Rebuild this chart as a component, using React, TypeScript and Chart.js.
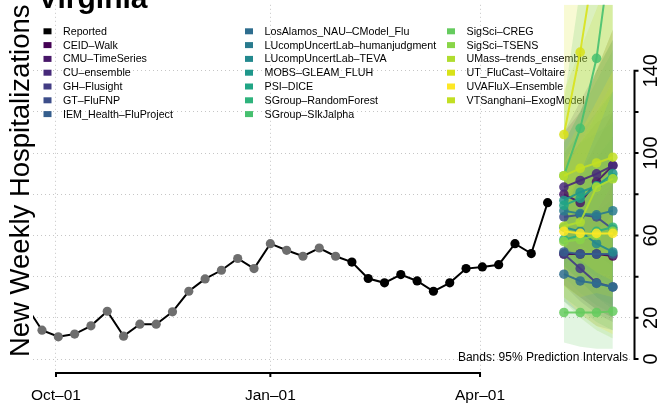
import React, { useEffect, useRef } from 'react';
import { Chart, registerables } from 'chart.js';

Chart.register(...registerables);

// ---------- data ----------
const reportedDates = [
  '2022-09-18', '2022-09-25', '2022-10-02', '2022-10-09', '2022-10-16', '2022-10-23',
  '2022-10-30', '2022-11-06', '2022-11-13', '2022-11-20', '2022-11-27', '2022-12-04',
  '2022-12-11', '2022-12-18', '2022-12-25', '2023-01-01', '2023-01-08', '2023-01-15',
  '2023-01-22', '2023-01-29', '2023-02-05', '2023-02-12', '2023-02-19', '2023-02-26',
  '2023-03-05', '2023-03-12', '2023-03-19', '2023-03-26', '2023-04-02', '2023-04-09',
  '2023-04-16', '2023-04-23', '2023-04-30',
];
const reportedValues = [
  26, 14.0, 10.8, 12.1, 16.1, 23.2,
  11.1, 16.9, 16.9, 22.9, 32.9, 38.9,
  43.1, 48.8, 43.9, 56.0, 52.8, 49.9,
  53.9, 49.9, 47.1, 39.1, 37.0, 41.0,
  37.9, 32.9, 37.0, 43.9, 44.7, 45.8,
  56.0, 51.2, 75.9,
];
// the first weeks are drawn in grey
const reportedGreyCount = 20;

const forecastDates = ['2023-05-07', '2023-05-14', '2023-05-21', '2023-05-28'];

const modelNames = [
  'CEID–Walk', 'CMU–TimeSeries', 'CU–ensemble', 'GH–Flusight', 'GT–FluFNP',
  'IEM_Health–FluProject', 'LosAlamos_NAU–CModel_Flu', 'LUcompUncertLab–humanjudgment',
  'LUcompUncertLab–TEVA', 'MOBS–GLEAM_FLUH', 'PSI–DICE', 'SGroup–RandomForest',
  'SGroup–SIkJalpha', 'SigSci–CREG', 'SigSci–TSENS', 'UMass–trends_ensemble',
  'UT_FluCast–Voltaire', 'UVAFluX–Ensemble', 'VTSanghani–ExogModel',
];
const modelColors = [
  '#440154', '#481769', '#472A7A', '#433D84', '#3D4E8A', '#355E8D', '#2E6D8E',
  '#297B8E', '#23898E', '#1F978B', '#21A585', '#2EB37C', '#46C06F', '#65CB5E',
  '#89D548', '#B0DD2F', '#D8E219', '#FDE725', '#C2DF23',
];
const modelMedian = [
  [51, 51, 51, 50],
  [80, 76, 86, 94],
  [83.5, 86.7, 89.9, 93.9],
  [51, 44, 37, 35],
  [69, 70, 69, 63],
  [52, 51, 51, 51],
  [41.2, 37.9, 36.7, 35],
  [72, 70.6, 70, 72],
  [64, 62, 56, 52],
  [77, 81, 84, 90],
  [74.6, 78, 84, 88],
  [58, 60, 62, 64],
  [89, 112, 146, 205],
  [22.6, 22.6, 22.6, 23.2],
  [57, 58, 60, 62],
  [64.5, 66.5, 83.5, 87.5],
  [109, 149, 199, 250],
  [62, 61, 61, 61],
  [89, 92.6, 95.2, 98],
];
const modelLower = [
  [36, 30, 24, 20],
  [55, 45, 40, 35],
  [60, 55, 50, 45],
  [36, 28, 22, 18],
  [45, 38, 30, 24],
  [36, 30, 24, 20],
  [28, 22, 16, 14],
  [45, 38, 30, 26],
  [40, 32, 26, 22],
  [50, 45, 42, 40],
  [45, 40, 36, 32],
  [30, 24, 18, 14],
  [60, 65, 72, 85],
  [8, 6, 5, 5],
  [28, 20, 14, 10],
  [35, 30, 32, 30],
  [70, 90, 110, 130],
  [30, 22, 16, 12],
  [55, 48, 42, 38],
];
const modelUpper = [
  [75, 90, 105, 120],
  [110, 120, 140, 160],
  [110, 125, 140, 155],
  [75, 78, 80, 85],
  [95, 105, 115, 120],
  [78, 88, 98, 108],
  [62, 66, 72, 78],
  [100, 110, 120, 130],
  [95, 105, 110, 115],
  [105, 120, 135, 150],
  [105, 120, 140, 155],
  [90, 105, 118, 130],
  [125, 180, 260, 360],
  [45, 55, 62, 70],
  [90, 105, 120, 135],
  [100, 115, 140, 160],
  [180, 240, 320, 420],
  [95, 110, 125, 140],
  [130, 150, 170, 190],
];

const xTickDates = ['2022-10-01', '2023-01-01', '2023-04-01'];
const xTickLabels = ['Oct–01', 'Jan–01', 'Apr–01'];
const yGridValues = [0, 20, 40, 60, 80, 100, 120, 140];
const yTickLabels = [0, 20, 60, 100, 140];

const titleText = 'Virginia';
const yTitleText = 'New Weekly Hospitalizations';
const bandsNote = 'Bands: 95% Prediction Intervals';

// ---------- helpers ----------
const ORIGIN = Date.parse('2022-10-01');
const toDay = (s: string) => (Date.parse(s) - ORIGIN) / 86400000;
const FONT = '"Liberation Sans", Arial, Helvetica, sans-serif';

function withAlpha(hex: string, a: number) {
  const r = parseInt(hex.slice(1, 3), 16);
  const g = parseInt(hex.slice(3, 5), 16);
  const b = parseInt(hex.slice(5, 7), 16);
  return `rgba(${r},${g},${b},${a})`;
}

const decorPlugin = {
  id: 'decor',
  beforeDatasetsDraw(chart: any) {
    const { ctx, chartArea } = chart;
    const names = ['Reported', ...modelNames];
    const colors = ['#000000', ...modelColors];
    const columns = [
      [0, 1, 2, 3, 4, 5, 6],
      [7, 8, 9, 10, 11, 12, 13],
      [14, 15, 16, 17, 18, 19],
    ];
    const colX = [10.5, 212, 414];
    ctx.save();
    ctx.font = `10.7px ${FONT}`;
    ctx.textBaseline = 'middle';
    ctx.textAlign = 'left';
    columns.forEach((col, c) => {
      col.forEach((idx, r) => {
        const x = chartArea.left + colX[c];
        const y = chartArea.top + 26.5 + r * 13.8;
        ctx.fillStyle = colors[idx];
        ctx.fillRect(x, y - 3, 8, 6);
        ctx.fillStyle = '#000';
        ctx.fillText(names[idx], x + 19.5, y + 0.5);
      });
    });
    ctx.restore();
  },
  afterDraw(chart: any) {
    const { ctx, chartArea, scales } = chart;
    const xs = scales.x;
    const ys = scales.y;
    ctx.save();
    ctx.strokeStyle = '#000';
    ctx.fillStyle = '#000';
    ctx.lineWidth = 2;
    ctx.lineCap = 'butt';

    // bottom axis
    const axY = chartArea.bottom + 1;
    const x0 = xs.getPixelForValue(toDay(xTickDates[0]));
    const x1 = xs.getPixelForValue(toDay(xTickDates[xTickDates.length - 1]));
    ctx.beginPath();
    ctx.moveTo(x0 - 1, axY);
    ctx.lineTo(x1 + 1, axY);
    xTickDates.forEach((d) => {
      const px = xs.getPixelForValue(toDay(d));
      ctx.moveTo(px, axY);
      ctx.lineTo(px, axY + 4);
    });
    ctx.stroke();
    ctx.font = `15.5px ${FONT}`;
    ctx.textAlign = 'center';
    ctx.textBaseline = 'middle';
    xTickDates.forEach((d, i) => {
      ctx.fillText(xTickLabels[i], xs.getPixelForValue(toDay(d)), chartArea.bottom + 24);
    });

    // right axis
    const axX = chartArea.right + 3.5;
    const yTop = ys.getPixelForValue(yGridValues[yGridValues.length - 1]);
    const yBot = ys.getPixelForValue(yGridValues[0]);
    ctx.beginPath();
    ctx.moveTo(axX, yTop - 1);
    ctx.lineTo(axX, yBot + 1);
    yGridValues.forEach((v) => {
      const py = ys.getPixelForValue(v);
      ctx.moveTo(axX, py);
      ctx.lineTo(axX + 4, py);
    });
    ctx.stroke();
    ctx.font = `20px ${FONT}`;
    ctx.textAlign = 'center';
    ctx.textBaseline = 'alphabetic';
    yTickLabels.forEach((v) => {
      ctx.save();
      ctx.translate(chartArea.right + 26, ys.getPixelForValue(v));
      ctx.rotate(-Math.PI / 2);
      ctx.fillText(String(v), 0, 0);
      ctx.restore();
    });

    // y title
    ctx.save();
    ctx.font = `27.5px ${FONT}`;
    ctx.textAlign = 'center';
    ctx.textBaseline = 'alphabetic';
    ctx.translate(chartArea.left - 4, chartArea.top + 176);
    ctx.rotate(-Math.PI / 2);
    ctx.fillText(yTitleText, 0, 0);
    ctx.restore();

    // main title
    ctx.font = `bold 30px ${FONT}`;
    ctx.textAlign = 'left';
    ctx.textBaseline = 'alphabetic';
    ctx.fillText(titleText, chartArea.left + 5, chartArea.top + 3);

    // bands note
    ctx.font = `12px ${FONT}`;
    ctx.textAlign = 'right';
    ctx.textBaseline = 'middle';
    ctx.fillText(bandsNote, chartArea.right - 3, ys.getPixelForValue(0) - 1.5);

    ctx.restore();
  },
};

export default function App() {
  const canvasRef = useRef<HTMLCanvasElement | null>(null);

  useEffect(() => {
    if (!canvasRef.current) return;
    const datasets: any[] = [];

    datasets.push({
      label: 'Reported',
      data: reportedDates.map((d, i) => ({ x: toDay(d), y: reportedValues[i] })),
      borderColor: '#000',
      borderWidth: 2,
      pointRadius: 4.6,
      pointBackgroundColor: reportedDates.map((_, i) => (i < reportedGreyCount ? '#6e6e6e' : '#000')),
      pointBorderWidth: 0,
      fill: false,
      tension: 0,
      order: 0,
    });

    modelNames.forEach((name, m) => {
      datasets.push({
        label: name,
        data: forecastDates.map((d, i) => ({ x: toDay(d), y: modelMedian[m][i] })),
        borderColor: withAlpha(modelColors[m], 0.9),
        borderWidth: 2,
        pointRadius: 4.8,
        pointBackgroundColor: withAlpha(modelColors[m], 0.85),
        pointBorderWidth: 0,
        fill: false,
        tension: 0,
        order: 50 - m,
      });
    });

    modelNames.forEach((name, m) => {
      datasets.push({
        label: name + ' upper',
        data: forecastDates.map((d, i) => ({ x: toDay(d), y: modelUpper[m][i] })),
        borderWidth: 0,
        borderColor: 'rgba(0,0,0,0)',
        pointRadius: 0,
        backgroundColor: withAlpha(modelColors[m], 0.19),
        fill: '+1',
        tension: 0,
        order: 100 - m,
      });
      datasets.push({
        label: name + ' lower',
        data: forecastDates.map((d, i) => ({ x: toDay(d), y: modelLower[m][i] })),
        borderWidth: 0,
        borderColor: 'rgba(0,0,0,0)',
        pointRadius: 0,
        fill: false,
        tension: 0,
        order: 100 - m,
      });
    });

    const gridCommon = { color: '#c6c6c6', lineWidth: 1, drawTicks: false };
    const chart = new Chart(canvasRef.current, {
      type: 'line',
      data: { datasets },
      options: {
        animation: false,
        responsive: false,
        maintainAspectRatio: false,
        devicePixelRatio: 1,
        layout: { padding: { left: 33, right: 27, top: 4, bottom: 36 } },
        plugins: { legend: { display: false }, tooltip: { enabled: false } },
        scales: {
          x: {
            type: 'linear',
            min: -9.87,
            max: 246.8,
            afterBuildTicks: (s: any) => {
              s.ticks = xTickDates.map((d) => ({ value: toDay(d) }));
            },
            afterFit: (s: any) => {
              s.height = 0;
            },
            ticks: { display: false },
            grid: gridCommon,
            border: { display: false, dash: [1, 3] },
          },
          y: {
            type: 'linear',
            position: 'right',
            min: -6.3,
            max: 172,
            afterBuildTicks: (s: any) => {
              s.ticks = yGridValues.map((v) => ({ value: v }));
            },
            afterFit: (s: any) => {
              s.width = 0;
            },
            ticks: { display: false },
            grid: gridCommon,
            border: { display: false, dash: [1, 3] },
          },
        },
      } as any,
      plugins: [decorPlugin],
    });
    return () => chart.destroy();
  }, []);

  return (
    <div style={{ position: 'fixed', left: 0, top: 0, width: 658, height: 408, background: '#fff' }}>
      <canvas ref={canvasRef} width={658} height={408} style={{ width: 658, height: 408, display: 'block' }} />
    </div>
  );
}
